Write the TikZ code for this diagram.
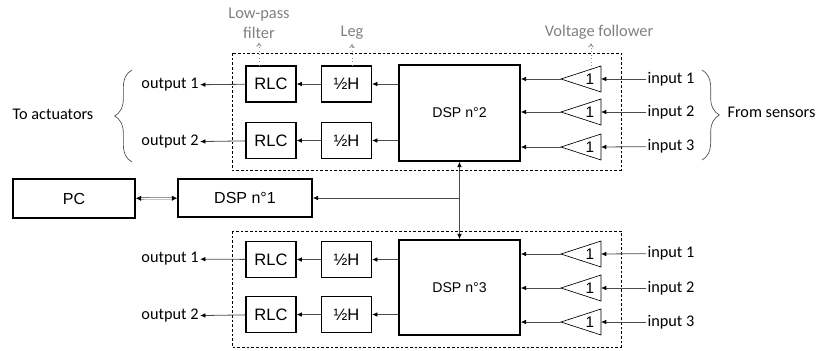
\documentclass[tikz,border=0pt]{standalone}
\usepackage{fontspec}
\setmainfont{Carlito}
\newfontfamily\boxfont{Liberation Sans}
\usetikzlibrary{calc,arrows.meta,decorations.pathreplacing}
\tikzset{
	blk/.style={draw=black,line width=0.9pt,inner sep=0pt,font=\boxfont\fontsize{12.4}{15}\selectfont,minimum width=37.5pt,minimum height=27pt},
	dsp/.style={draw=black,line width=1.2pt,inner sep=0pt,font=\boxfont\fontsize{10.6}{13}\selectfont,minimum width=90.75pt,minimum height=72pt},
	arr/.style={draw=black!70,line width=0.6pt,-{Latex[length=4pt,width=3.5pt,color=black]}},
	note/.style={draw=black!45,dotted,line width=0.6pt,-{To[length=3pt,width=4pt]}},
	notetxt/.style={text=black!50,font=\fontsize{12.3}{15}\selectfont,align=center,inner sep=0pt},
	lbl/.style={font=\fontsize{12.2}{15}\selectfont,inner sep=1pt},
	crl/.style={draw=black!70,line width=0.5pt,decorate,decoration={brace,amplitude=13pt}},
	grp/.style={draw=black,dashed,line width=0.5pt,dash pattern=on 2pt off 1.5pt}
}
\newcommand\follower[3]{%
	\coordinate (#1-tip) at (#2,#3);
	\coordinate (#1-base) at ({#2+40},#3);
	\coordinate (#1-top) at ({#2+30},{#3-9.75});
	\draw[line width=0.5pt] (#1-tip) -- ({#2+40},{#3-13}) -- ({#2+40},{#3+13}) -- cycle;
	\node[font=\boxfont\fontsize{11.5}{14}\selectfont,inner sep=0pt] (#1-one) at ({#2+29},#3) {1};
}

\begin{document}
\begin{tikzpicture}[x=0.75pt,y=-0.75pt]
	%%%%% START %%%%%
	\def\xrlc{271}
	\def\xhalf{346.5}
	\def\xdsp{459.5}
	\def\xtri{561}
	\def\xin{671}
	\def\xout{170}
	\useasboundingbox (0,0) rectangle (820,350);

	% upper board
	\draw[grp] (232,53) rectangle (621,170);
	\node[blk] (rlcA) at (\xrlc,84) {RLC};
	\node[blk] (rlcB) at (\xrlc,140.5) {RLC};
	\node[blk] (halfA) at (\xhalf,84) {½H};
	\node[blk] (halfB) at (\xhalf,140.5) {½H};
	\node[dsp] (dspB) at (\xdsp,113) {DSP n°2};
	\follower{fA}{\xtri}{79}
	\follower{fB}{\xtri}{112}
	\follower{fC}{\xtri}{147}
	\node[lbl] (inA) at (\xin,79) {input 1};
	\node[lbl] (inB) at (\xin,112) {input 2};
	\node[lbl] (inC) at (\xin,146.5) {input 3};
	\node[lbl] (outA) at (\xout,85) {output 1};
	\node[lbl] (outB) at (\xout,142) {output 2};

	\draw[arr] (inA) -- (fA-base);
	\draw[arr] (inB) -- (fB-base);
	\draw[arr] (inC) -- (fC-base);
	\draw[arr] (fA-tip) -- (dspB.east |- fA-tip);
	\draw[arr] (fB-tip) -- (dspB.east |- fB-tip);
	\draw[arr] (fC-tip) -- (dspB.east |- fC-tip);
	\draw[arr] (dspB.west |- halfA) -- (halfA);
	\draw[arr] (dspB.west |- halfB) -- (halfB);
	\draw[arr] (halfA) -- (rlcA);
	\draw[arr] (halfB) -- (rlcB);
	\draw[arr] (rlcA) -- (outA);
	\draw[arr] (rlcB) -- (outB);

	% notes
	\node[notetxt] (lpf) at (259,23) {Low-pass\\filter};
	\node[notetxt] (leg) at (352,33) {Leg};
	\node[notetxt] (vf) at (599,32) {Voltage follower};
	\draw[note] (lpf.south |- rlcA.north) -- ([yshift=-3pt]lpf.south);
	\draw[note] (leg.south |- halfA.north) -- ([yshift=-3pt]leg.south);
	\draw[note] (fA-top) -- ([yshift=-3pt]fA-top |- vf.south);

	% braces
	\draw[crl] (132,162) -- (132,70);
	\draw[crl] (702,70) -- (702,160);
	\node[lbl] (act) at (53,114) {To actuators};
	\node[lbl,anchor=west] (sens) at (726,112) {From sensors};

	% middle row
	\node[dsp,font=\boxfont\fontsize{12}{14}\selectfont,minimum width=91.5pt,minimum height=29.25pt] (pc) at (74,198.5) {PC};
	\node[dsp,font=\boxfont\fontsize{12}{14}\selectfont,minimum width=100.5pt,minimum height=28.5pt] (dspA) at (245,198) {DSP n°1};
	\draw[draw=black!60,double,double distance=0.8pt,line width=0.5pt,{Latex[length=4pt,width=4pt,color=black]}-{Latex[length=4pt,width=4pt,color=black]}] (pc) -- (dspA);

	% lower board
	\draw[grp] (232,231) rectangle (621,347);
	\node[blk] (rlcC) at (\xrlc,259.5) {RLC};
	\node[blk] (rlcD) at (\xrlc,314.5) {RLC};
	\node[blk] (halfC) at (\xhalf,259.5) {½H};
	\node[blk] (halfD) at (\xhalf,314.5) {½H};
	\node[dsp,minimum height=71.25pt] (dspC) at (\xdsp,287.5) {DSP n°3};
	\follower{fD}{\xtri}{254}
	\follower{fE}{\xtri}{288}
	\follower{fF}{\xtri}{322}
	\node[lbl] (inD) at (\xin,253.5) {input 1};
	\node[lbl] (inE) at (\xin,288) {input 2};
	\node[lbl] (inF) at (\xin,322) {input 3};
	\node[lbl] (outC) at (\xout,259) {output 1};
	\node[lbl] (outD) at (\xout,316) {output 2};

	\draw[arr] (inD) -- (fD-base);
	\draw[arr] (inE) -- (fE-base);
	\draw[arr] (inF) -- (fF-base);
	\draw[arr] (fD-tip) -- (dspC.east |- fD-tip);
	\draw[arr] (fE-tip) -- (dspC.east |- fE-tip);
	\draw[arr] (fF-tip) -- (dspC.east |- fF-tip);
	\draw[arr] (dspC.west |- halfC) -- (halfC);
	\draw[arr] (dspC.west |- halfD) -- (halfD);
	\draw[arr] (halfC) -- (rlcC);
	\draw[arr] (halfD) -- (rlcD);
	\draw[arr] (rlcC) -- (outC);
	\draw[arr] (rlcD) -- (outD);

	% bus between the DSPs
	\coordinate (bus) at (dspB.south |- dspA);
	\draw[arr,{Latex[length=4pt,width=3.5pt,color=black]}-{Latex[length=4pt,width=3.5pt,color=black]}] (dspB.south) -- (dspC.north);
	\draw[arr] (bus) -- (dspA);
	%%%%% END %%%%%
\end{tikzpicture}
\end{document}
